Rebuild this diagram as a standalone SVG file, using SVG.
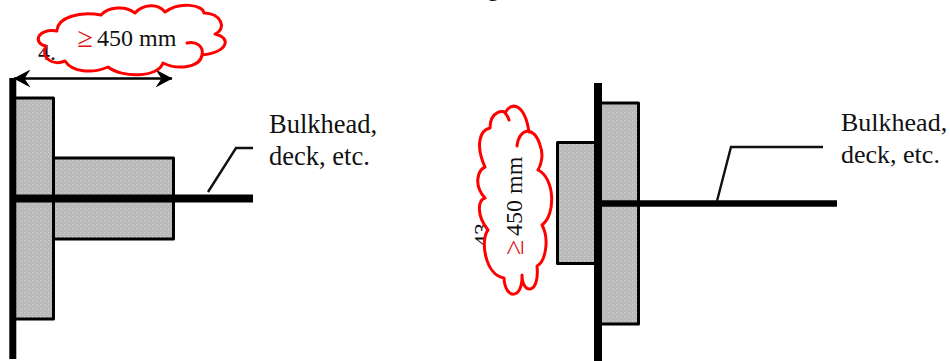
<svg xmlns="http://www.w3.org/2000/svg" width="950" height="361" viewBox="0 0 950 361">
<style>
text{font-family:"Liberation Serif","Times New Roman",serif;font-size:24px;fill:#111}
.lab{font-size:26.500px}
.fill{fill:url(#hatch);stroke:#000;stroke-width:3;stroke-linejoin:round}
.thick{stroke:#000;fill:none}
.lead{stroke:#111;stroke-width:2.4;fill:none}
.cloud{fill:#fff;stroke:none}
.edge{fill:none;stroke:#f00;stroke-width:3;stroke-linejoin:round;stroke-linecap:round}
.red{fill:#e01010;font-size:28px}
</style>
<defs>
<pattern id="hatch" width="4" height="4" patternUnits="userSpaceOnUse">
<rect width="4" height="4" fill="#b9b9b9"/>
<rect width="1" height="1" fill="#d4d4d4"/>
<rect x="2" y="2" width="1" height="1" fill="#c8c8c8"/>
</pattern>
<marker id="ah" viewBox="0 0 17 18" refX="16.500" refY="9" markerWidth="17" markerHeight="18" markerUnits="userSpaceOnUse" orient="auto-start-reverse">
<path d="M0 0L17 9L0 18L6 9Z" fill="#000"/>
</marker>
</defs>
<text x="487" y="-4">g</text>
<g id="left-structure">
<rect class="fill" x="14.500" y="98" width="39" height="221"/>
<rect class="fill" x="53.500" y="158" width="120" height="81"/>
<line class="thick" x1="12.800" y1="78" x2="12.800" y2="359" stroke-width="7"/>
<line class="thick" x1="10" y1="198.500" x2="253" y2="198.500" stroke-width="8"/>
</g>
<g id="right-structure">
<rect class="fill" x="600" y="103" width="38.500" height="221"/>
<rect class="fill" x="557.500" y="142.500" width="39" height="121"/>
<line class="thick" x1="598" y1="83" x2="598" y2="361" stroke-width="8"/>
<line class="thick" x1="600" y1="203.500" x2="837" y2="203.500" stroke-width="6.500"/>
</g>
<g id="connectors">
<path class="lead" d="M208 192L236 148H253"/>
<path class="lead" d="M717 201L731 147H823"/>
<line x1="14" y1="78.500" x2="172" y2="78.500" stroke="#000" stroke-width="2.600" marker-start="url(#ah)" marker-end="url(#ah)"/>
</g>
<g id="label-left-bulkhead">
<text class="lab" x="269" y="132.500">Bulkhead,</text>
<text class="lab" x="269" y="165">deck, etc.</text>
</g>
<g id="label-right-bulkhead">
<text class="lab" x="841" y="131" style="font-size:26px">Bulkhead,</text>
<text class="lab" x="841" y="163" style="font-size:26px">deck, etc.</text>
</g>
<g id="dimension-left">
<path class="cloud" d="M57 30C58 18 78 11 101 15C108 7 125 5 135 13C143 4 158 3 165 12C180 1 203 5 204 13C220 13 228 28 215 34C232 38 228 52 202 55C200 68 177 70 163 63C158 78 122 78 108 67C92 74 72 72 65 61C53 66 40 58 46 46C33 44 36 28 57 30Z"/>
<text x="38" y="60">4.</text>
<path class="edge" d="M57 30C58 18 78 11 101 15C108 7 125 5 135 13C143 4 158 3 165 12C180 1 203 5 204 13C220 13 228 28 215 34C232 38 228 52 202 55C204 46 196 41 187 43M202 55C200 68 177 70 163 63C158 78 122 78 108 67C92 74 72 72 65 61C53 66 40 58 46 46C33 44 36 28 57 31"/>
<text class="red" x="77.500" y="47">≥</text>
<text x="97" y="46">450 mm</text>
</g>
<g id="dimension-right">
<text transform="translate(490 247) rotate(-90)">43</text>
<path class="cloud" d="M485 167C475 145 480 130 490 128C490 110 505 110 505 113C512 100 525 105 529 132C545 128 545 155 538 170C555 178 556 215 542 225C550 240 545 262 537 266C540 295 522 295 522 275C523 300 505 300 504 278C485 275 480 240 488 230C476 215 478 200 485 198C473 185 478 170 485 167Z"/>
<path class="edge" d="M517 146C519 128 534 125 540 145C544 155 541 165 538 170C555 178 556 215 542 225C550 240 545 262 537 266C540 295 522 295 522 275C523 300 505 300 504 278C485 275 480 240 488 230C476 215 478 200 485 198C473 185 478 170 485 167C475 145 480 130 490 128C490 110 505 110 505 113C512 100 525 105 529 132M505 113C507 115 508 117 509 120"/>
<text class="red" transform="translate(523 255) rotate(-90)">≥</text>
<text transform="translate(522 236) rotate(-90)">450 mm</text>
</g>
</svg>
